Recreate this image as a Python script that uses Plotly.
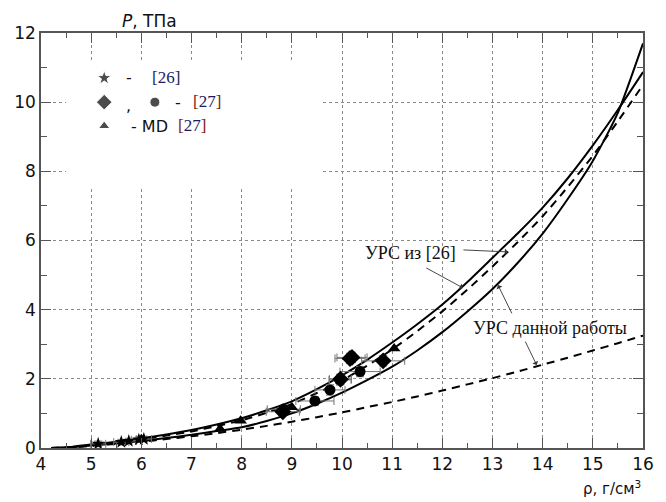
import plotly.graph_objects as go

# Equation-of-state curves: density (g/cm^3) -> pressure (TPa)
rho_grid = [4.2, 4.6, 5.0, 5.5, 6.0, 6.5, 7.0, 7.5, 8.0, 8.5, 9.0, 9.5, 10.0, 10.5, 11.0,
            11.5, 12.0, 12.5, 13.0, 13.5, 14.0, 14.5, 15.0, 15.5, 16.0]
p_eos26 = [0.0, 0.03, 0.10, 0.18, 0.28, 0.39, 0.52, 0.68, 0.86, 1.09, 1.35, 1.70, 2.10, 2.55, 3.05,
           3.58, 4.15, 4.80, 5.50, 6.20, 6.95, 7.80, 8.75, 9.78, 10.87]
p_eos26_dash = [0.0, 0.02, 0.08, 0.16, 0.25, 0.36, 0.48, 0.63, 0.80, 1.02, 1.27, 1.59, 1.95, 2.38, 2.85,
                3.38, 3.95, 4.58, 5.25, 5.95, 6.70, 7.55, 8.45, 9.45, 10.50]
p_eos_this = [0.0, 0.02, 0.07, 0.13, 0.20, 0.29, 0.38, 0.49, 0.60, 0.78, 1.00, 1.28, 1.60, 1.96, 2.35,
              2.82, 3.35, 3.95, 4.60, 5.35, 6.20, 7.20, 8.30, 9.70, 11.70]
p_lower_dash = [0.0, 0.02, 0.06, 0.12, 0.18, 0.26, 0.34, 0.43, 0.53, 0.64, 0.76, 0.89, 1.03, 1.18, 1.33,
                1.49, 1.66, 1.84, 2.02, 2.21, 2.41, 2.61, 2.82, 3.03, 3.25]

# Experimental / MD points
rho_26 = [5.14, 5.60, 5.75, 5.95, 6.05]
p_26 = [0.12, 0.17, 0.20, 0.24, 0.26]
drho_26 = [0.15, 0.15, 0.15, 0.15, 0.15]
dp_26 = [0.08, 0.08, 0.08, 0.08, 0.08]

rho_27d = [8.82, 9.97, 10.16, 10.20, 10.82]
p_27d = [1.05, 1.99, 2.59, 2.62, 2.52]
drho_27d = [0.33, 0.22, 0.30, 0.30, 0.43]
dp_27d = [0.12, 0.15, 0.15, 0.15, 0.15]

rho_27c = [8.84, 9.46, 9.76, 9.96, 10.36]
p_27c = [1.12, 1.36, 1.68, 1.97, 2.21]
drho_27c = [0.33, 0.38, 0.30, 0.22, 0.40]
dp_27c = [0.12, 0.12, 0.15, 0.15, 0.15]

rho_md = [6.0, 7.57, 7.98, 9.00, 11.04]
p_md = [0.25, 0.55, 0.79, 1.18, 2.88]

x_ticks = [4, 5, 6, 7, 8, 9, 10, 11, 12, 13, 14, 15, 16]
y_ticks = [0, 2, 4, 6, 8, 10, 12]

BAR = "#767676"
TICK_FONT = dict(family="DejaVu Sans", size=17, color="#111")

fig = go.Figure()

def curve(y, dash):
    fig.add_trace(go.Scatter(
        x=rho_grid, y=y, mode="lines",
        line=dict(color="black", width=2, dash=dash, shape="spline", smoothing=0.6),
        hoverinfo="skip"))

curve(p_eos26, "solid")
curve(p_eos26_dash, "8px,6px")
curve(p_eos_this, "solid")
curve(p_lower_dash, "8px,6px")

def points(x, y, symbol, size, ex=None, ey=None):
    kw = {}
    if ex is not None:
        kw["error_x"] = dict(type="data", array=ex, color=BAR, thickness=1, width=4)
        kw["error_y"] = dict(type="data", array=ey, color=BAR, thickness=1, width=4)
    fig.add_trace(go.Scatter(
        x=x, y=y, mode="markers",
        marker=dict(symbol=symbol, size=size, color="black"), **kw))

points(rho_26, p_26, "star", 10, drho_26, dp_26)
points(rho_27c, p_27c, "circle", 11, drho_27c, dp_27c)
points(rho_27d, p_27d, "diamond", 13, drho_27d, dp_27d)
points(rho_md, p_md, "triangle-up", 11)

# Key symbols in the upper-left box
fig.add_trace(go.Scatter(
    x=[5.26, 5.26, 6.27, 5.26], y=[10.70, 10.0, 10.0, 9.31], mode="markers",
    marker=dict(symbol=["star", "diamond", "circle", "triangle-up"],
                size=[11, 12, 10, 10], color="black")))

shapes = [
    # blank panel behind the key
    dict(type="rect", xref="x", yref="y", x0=4.5, x1=9.6, y0=7.5, y1=11.2,
         fillcolor="white", line=dict(width=0), layer="between"),
]

SERIF = dict(family="Liberation Serif", size=17, color="#111")
LABEL = dict(family="Liberation Serif", size=18, color="#111")
SANS = dict(family="DejaVu Sans", size=16, color="#111")
NAVY = "#1c1c5c"
RED = "#7a1a1a"
REF27 = (f"<span style='color:{RED}'>[</span><span style='color:{NAVY}'>27</span>"
         f"<span style='color:{RED}'>]</span>")

ann = [
    dict(x=5.75, y=10.70, text="-", font=SANS, showarrow=False, xanchor="center"),
    dict(x=6.18, y=10.72, text=f"<span style='color:{NAVY}'>[26]</span>", font=SERIF,
         showarrow=False, xanchor="left"),
    dict(x=5.75, y=9.90, text=",", font=SANS, showarrow=False, xanchor="center"),
    dict(x=6.73, y=10.0, text="-", font=SANS, showarrow=False, xanchor="center"),
    dict(x=6.98, y=10.02, text=REF27, font=SERIF, showarrow=False, xanchor="left"),
    dict(x=5.75, y=9.31, text="- MD", font=SANS, showarrow=False, xanchor="left"),
    dict(x=6.70, y=9.33, text=REF27, font=SERIF, showarrow=False, xanchor="left"),
    # curve labels
    dict(x=11.36, y=5.63, text="УРС из [26]", font=LABEL, showarrow=False),
    dict(x=14.15, y=3.47, text="УРС данной работы", font=LABEL, showarrow=False),
    # axis captions
    dict(xref="paper", yref="paper", x=0.132, y=1.0, xanchor="left", yanchor="bottom",
         text="<i>P</i>, ТПа", font=dict(family="DejaVu Sans", size=17, color="#111"),
         showarrow=False),
    dict(xref="paper", yref="paper", x=1.0, y=-0.125, xanchor="right", yanchor="bottom",
         text="ρ, г/см<sup>3</sup>", font=dict(family="DejaVu Sans", size=15, color="#111"),
         showarrow=False),
]

def pointer(x0, y0, x1, y1):
    ann.append(dict(x=x1, y=y1, ax=x0, ay=y0, xref="x", yref="y", axref="x", ayref="y",
                    text="", showarrow=True, arrowhead=1, arrowsize=1.2, arrowwidth=0.9,
                    arrowcolor="#333"))

pointer(12.39, 5.73, 13.31, 5.67)
pointer(11.65, 5.23, 12.41, 4.63)
pointer(13.40, 3.85, 13.11, 4.71)
pointer(13.64, 3.12, 13.88, 2.40)

axis_common = dict(
    showline=True, linecolor="#555", linewidth=1.5, mirror="allticks",
    ticks="inside", tickcolor="#555", tickwidth=1, ticklen=10,
    showgrid=True, gridcolor="#8a8a8a", griddash="dot", gridwidth=1,
    zeroline=False, tickfont=TICK_FONT,
)

fig.update_layout(
    width=666, height=502,
    margin=dict(l=41, r=23, t=33, b=54),
    paper_bgcolor="white", plot_bgcolor="white",
    showlegend=False,
    xaxis=dict(range=[4, 16], tickvals=x_ticks, ticktext=[str(v) for v in x_ticks],
               minor=dict(dtick=0.5, tick0=4, ticks="inside", ticklen=5, tickcolor="#555",
                          showgrid=False),
               **axis_common),
    yaxis=dict(range=[0, 12], tickvals=y_ticks, ticktext=[str(v) for v in y_ticks],
               minor=dict(dtick=1, tick0=0, ticks="inside", ticklen=6, tickcolor="#555",
                          showgrid=False),
               **axis_common),
    shapes=shapes,
    annotations=ann,
)

fig.write_html("out.html")
